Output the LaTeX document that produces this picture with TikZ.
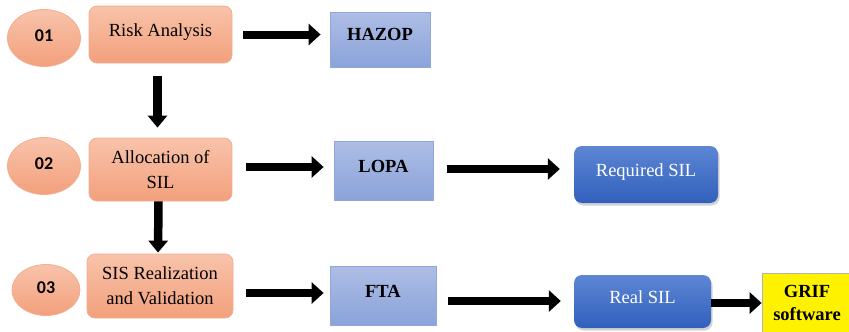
\documentclass[tikz,border=0pt]{standalone}
\usepackage{fontspec}
\setmainfont{Liberation Serif}
\newfontfamily\numfont{Carlito}
\usetikzlibrary{arrows.meta,shadows,shapes.geometric}
\definecolor{orTop}{HTML}{F8C3AA}
\definecolor{orBot}{HTML}{F3A07C}
\definecolor{orLine}{HTML}{F2AE90}
\definecolor{lbTop}{HTML}{AEBDE5}
\definecolor{lbBot}{HTML}{8AA3DA}
\definecolor{lbLine}{HTML}{8FA7DA}
\definecolor{dbTop}{HTML}{5D86D4}
\definecolor{dbBot}{HTML}{3160BC}
\begin{document}
\begin{tikzpicture}[x=1pt,y=-1pt,
  font=\fontsize{18.5}{25}\selectfont,
  numell/.style={ellipse, draw=orLine, line width=0.8pt, top color=orTop, bottom color=orBot,
    inner sep=0pt, text height=12pt, text depth=6pt, font=\numfont\bfseries\fontsize{18}{20}\selectfont},
  orbox/.style={rounded corners=8pt, draw=orLine, line width=0.8pt, top color=orTop, bottom color=orBot,
    align=center, inner sep=0pt},
  lbbox/.style={draw=lbLine, line width=0.8pt, top color=lbTop, bottom color=lbBot,
    inner sep=0pt, font=\bfseries\fontsize{18.5}{25}\selectfont},
  dbbox/.style={rounded corners=8pt, top color=dbTop, bottom color=dbBot, text=white,
    inner sep=0pt, drop shadow={shadow xshift=1.5pt, shadow yshift=-2.5pt, opacity=0.35}},
  grifbox/.style={fill=yellow, draw=gray!60, line width=0.8pt, align=center, inner sep=0pt,
    font=\bfseries\fontsize{18.5}{23}\selectfont},
  arr/.style={line width=8pt, -{Triangle[length=12pt,width=21pt]}},
  darr/.style={line width=8.5pt, -{Triangle[length=12pt,width=19pt]}}
]
\useasboundingbox (0,0) rectangle (849,332);

% number ellipses
\node[numell, minimum width=73pt, minimum height=57pt] (e1) at (44,38) {01};
\node[numell, minimum width=73pt, minimum height=57pt] (e2) at (44,166) {02};
\node[numell, minimum width=68pt, minimum height=51pt] (e3) at (46,290) {03};

% orange boxes
\node[orbox, minimum width=143pt, minimum height=57pt, text height=12pt, text depth=8pt] (risk) at (160.5,34.5) {Risk Analysis};
\node[orbox, minimum width=143pt, minimum height=63pt] (alloc) at (160.5,169.5) {Allocation of\\SIL};
\node[orbox, minimum width=146pt, minimum height=64pt] (sis) at (160,286) {SIS Realization\\and Validation};

% light blue boxes
\node[lbbox, minimum width=100pt, minimum height=55pt, text height=11pt, text depth=9pt] (hazop) at (380,39.5) {HAZOP};
\node[lbbox, minimum width=99pt, minimum height=59pt, text height=12pt, text depth=8pt] (lopa) at (383.5,170.5) {LOPA};
\node[lbbox, minimum width=106pt, minimum height=59pt, text height=12pt, text depth=8pt] (fta) at (383,295.5) {FTA};

% dark blue boxes
\node[dbbox, minimum width=144pt, minimum height=57pt, text height=11.5pt, text depth=8.5pt] (req) at (646,174.5) {Required SIL};
\node[dbbox, minimum width=137pt, minimum height=53pt, text height=11.5pt, text depth=8.5pt] (real) at (642.5,301.5) {Real SIL};

% GRIF box
\node[grifbox, minimum width=90pt, minimum height=59pt] (grif) at (807,302.5) {GRIF\\software};

% horizontal arrows
\draw[arr, shorten <=11pt, shorten >=9pt] (risk.east) -- (risk.east -| hazop.west);
\draw[arr, shorten <=14pt, shorten >=10pt] ([yshift=2.5pt]alloc.east) -- ([yshift=2.5pt]alloc.east -| lopa.west);
\draw[arr, shorten <=14pt, shorten >=14pt] ([yshift=1.5pt]lopa.east) -- ([yshift=1.5pt]lopa.east -| req.west);
\draw[arr, shorten <=13pt, shorten >=6pt] ([yshift=-7pt]sis.east) -- ([yshift=-7pt]sis.east -| fta.west);
\draw[arr, shorten <=12pt, shorten >=13pt] ([yshift=-5.5pt]fta.east) -- ([yshift=-5.5pt]fta.east -| real.west);
\draw[arr] ([yshift=-1.5pt]real.east) -- ([yshift=-1.5pt]real.east -| grif.west);

% vertical arrows
\draw[darr, shorten <=13pt, shorten >=10pt] ([xshift=-3pt]risk.south) -- ([xshift=-3pt]alloc.north);
\draw[darr, shorten >=1pt] ([xshift=-2pt]alloc.south) -- ([xshift=-2pt]sis.north);
\end{tikzpicture}
\end{document}
